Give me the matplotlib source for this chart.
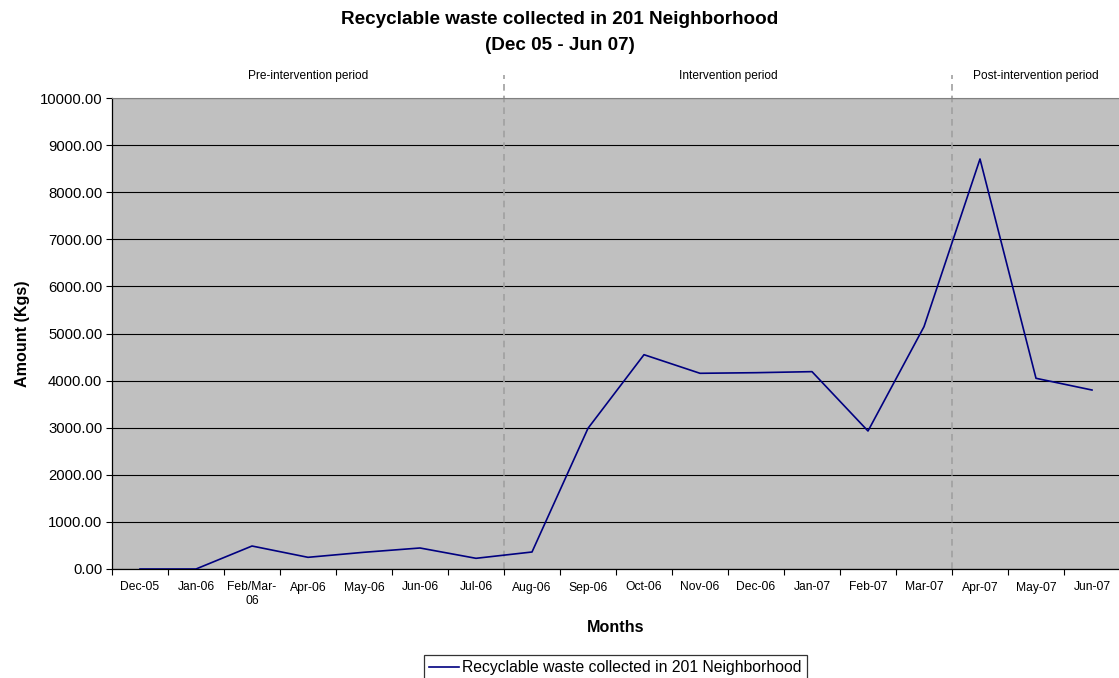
import matplotlib
matplotlib.use("Agg")
import matplotlib.pyplot as plt
import numpy as np

months = ["Dec-05", "Jan-06", "Feb/Mar-\n06", "Apr-06", "May-06", "Jun-06", "Jul-06",
          "Aug-06", "Sep-06", "Oct-06", "Nov-06", "Dec-06", "Jan-07", "Feb-07",
          "Mar-07", "Apr-07", "May-07", "Jun-07"]
amounts = [0, 0, 488, 248, 355, 446, 227, 361, 2987, 4550, 4155, 4168, 4190, 2930,
           5145, 8705, 4049, 3800]
series_name = "Recyclable waste collected in 201 Neighborhood"
period_names = ["Pre-intervention period", "Intervention period", "Post-intervention period"]
period_bounds = [-0.5, 6.5, 14.5, 17.5]
yticks = [0, 1000, 2000, 3000, 4000, 5000, 6000, 7000, 8000, 9000, 10000]

plt.rcParams['font.family'] = ['Liberation Sans', 'DejaVu Sans']

fig = plt.figure(figsize=(11.19, 6.78), dpi=100)
W, H = 1119, 678
ax = fig.add_axes([112 / W, 1 - 569 / H, 1008 / W, 471 / H])
ax.set_facecolor('#C0C0C0')

x = np.arange(len(months))
ax.plot(x, amounts, color='#000080', lw=1.2, label=series_name, zorder=3)

ax.set_xlim(-0.5, len(months) - 0.5)
ax.set_ylim(0, 10000)
ax.set_yticks(yticks)
ax.set_yticklabels([f"{v:.2f}" for v in yticks], fontsize=10.7)
ax.grid(axis='y', color='black', lw=0.8, zorder=1)
ax.set_axisbelow(True)

ax.set_xticks(x)
ax.set_xticklabels(months, fontsize=8.7)
ax.tick_params(axis='x', which='major', length=0, pad=9)
ax.set_xticks(np.arange(-0.5, len(months), 1), minor=True)
ax.tick_params(axis='x', which='minor', length=4, color='black', width=0.8)
ax.tick_params(axis='y', length=4, width=0.8, color='black', pad=3)

for s in ['left', 'bottom']:
    ax.spines[s].set_color('black')
    ax.spines[s].set_linewidth(0.9)
ax.spines['top'].set_color('#808080')
ax.spines['right'].set_color('#808080')

# period separators
for b in period_bounds[1:-1]:
    ax.axvline(b, ymin=0, ymax=1.048, color='#A0A0A0', lw=1.2, ls=(0, (4, 3)),
               clip_on=False, zorder=2)
for i, name in enumerate(period_names):
    cx = (period_bounds[i] + period_bounds[i + 1]) / 2
    ax.text(cx, 10460, name, ha='center', va='center', fontsize=8.6)

ax.set_ylabel("Amount (Kgs)", fontsize=11.6, fontweight='bold', labelpad=7)
ax.set_xlabel("Months", fontsize=11.6, fontweight='bold', labelpad=9)

fig.text(560 / W, 1 - 19 / H, "Recyclable waste collected in 201 Neighborhood",
         ha='center', va='center', fontsize=13.6, fontweight='bold')
fig.text(560 / W, 1 - 46 / H, "(Dec 05 - Jun 07)",
         ha='center', va='center', fontsize=13.6, fontweight='bold')

leg = fig.legend(loc='upper center', bbox_to_anchor=(615.5 / W, 1 - 655 / H),
                 fontsize=11.3, frameon=True, fancybox=False, shadow=False,
                 handlelength=1.9, borderpad=0.35, handletextpad=0.2, borderaxespad=0)
leg.get_frame().set_edgecolor('black')
leg.get_frame().set_linewidth(0.9)

fig.savefig("out.png", dpi=100)
